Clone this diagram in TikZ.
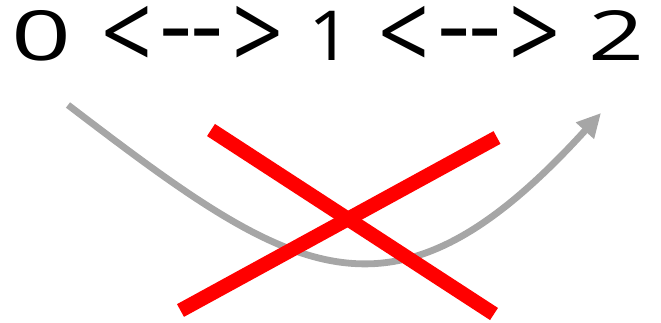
\documentclass[tikz,border=0pt]{standalone}
\usepackage{fontspec}
\usetikzlibrary{arrows.meta}
\newfontfamily\zerofont[FakeStretch=1.52]{Open Sans}
\newfontfamily\onefont[FakeStretch=1.1]{Open Sans}
\newfontfamily\twofont[FakeStretch=1.42]{Open Sans}
\newfontfamily\anglefont[FakeStretch=0.84]{Open Sans}
\newfontfamily\dashfont[FakeStretch=1.07]{Open Sans}
\definecolor{curvegray}{RGB}{166,166,166}
\definecolor{crossred}{RGB}{255,0,0}
% glyph box: width, x-shift, raise, font, glyph
\newcommand\glbox[5]{\makebox[#1pt][c]{\hspace*{#2pt}\raisebox{#3pt}{#4#5}}}
\newcommand\dig[1]{\fontsize{69}{72}\selectfont#1}
\newcommand\ang{\anglefont\fontsize{106}{110}\selectfont}
\newcommand\dsh{\dashfont\fontsize{96.6}{100}\selectfont}
\begin{document}
\begin{tikzpicture}[x=1pt,y=-1pt,
  curvestyle/.style={draw=curvegray,line width=6.8pt,-{Triangle[length=24pt,width=23pt]}},
  crossstyle/.style={draw=crossred,line width=14.5pt,line cap=butt},
  titlestyle/.style={anchor=base west,inner sep=0pt,outer sep=0pt,font=\zerofont\fontsize{69}{72}\selectfont}]
\useasboundingbox (0,0) rectangle (661,322);
\node[titlestyle] (title) at (10.65,60) {\spaceskip=20pt\relax
\glbox{61.7}{0}{0}{\dig\zerofont}{0} \glbox{68.5}{0}{-10.6}{\ang}{<}\glbox{31}{0}{2}{\dsh}{-}\glbox{31}{0}{2}{\dsh}{-}\glbox{69.4}{0}{-10.6}{\ang}{>} \glbox{37.95}{-3}{0}{\dig\onefont}{1} \glbox{68.5}{0}{-10.6}{\ang}{<}\glbox{31}{0}{2}{\dsh}{-}\glbox{31}{0}{2}{\dsh}{-}\glbox{69.4}{0}{-10.6}{\ang}{>} \glbox{53.2}{0}{0}{\dig\twofont}{2}};
\coordinate (cs) at (68,105);
\coordinate (ce) at (601,113);
\draw[curvestyle] (cs) .. controls (292,276) and (391,344) .. (ce);
\coordinate (xa1) at (211,130);
\coordinate (xa2) at (494,314);
\coordinate (xb1) at (180.5,310.5);
\coordinate (xb2) at (497,137.5);
\draw[crossstyle] (xa1) -- (xa2);
\draw[crossstyle] (xb1) -- (xb2);
\end{tikzpicture}
\end{document}
